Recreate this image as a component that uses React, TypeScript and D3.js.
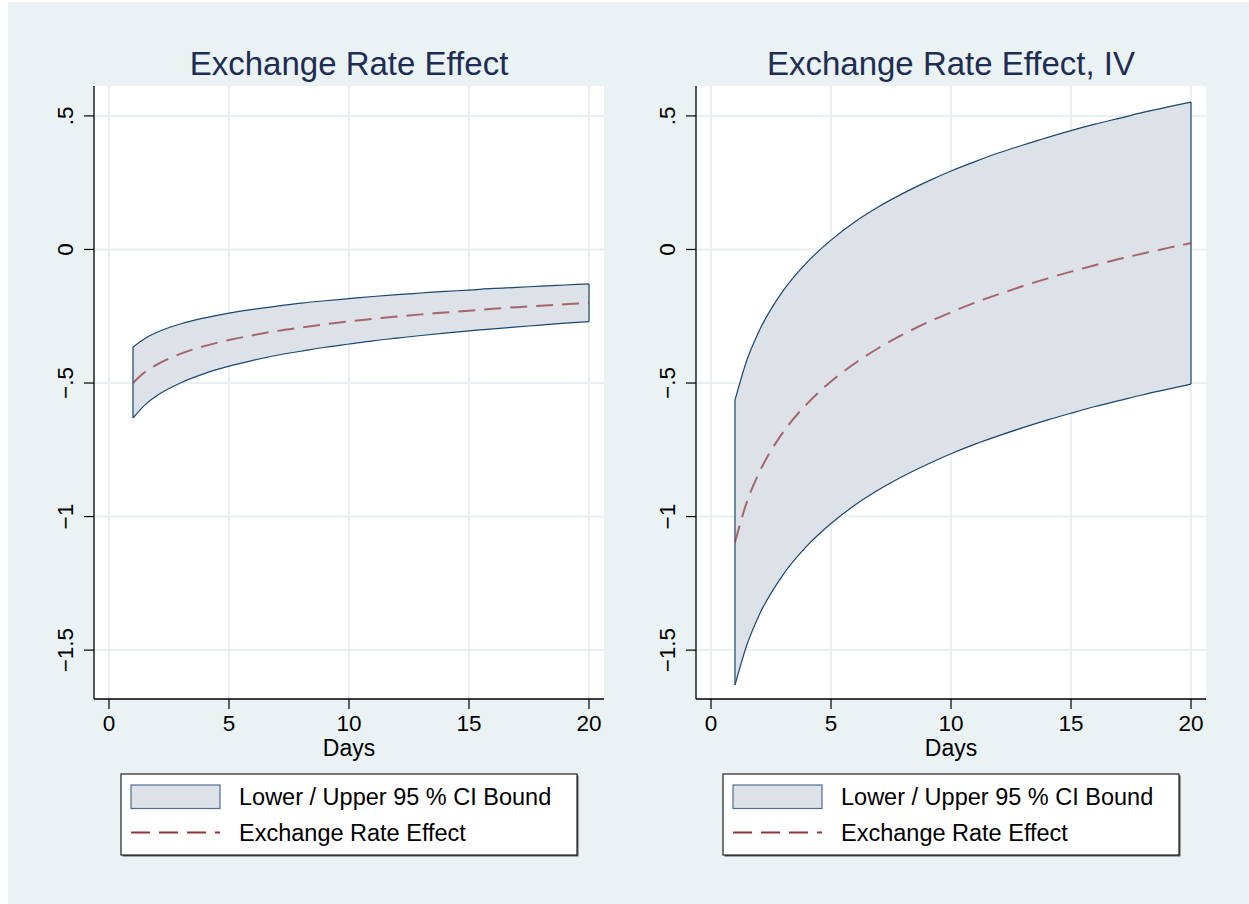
import * as d3 from 'd3';

// values, per day
const days = [1, 1.5, 2, 3, 4, 5, 6, 7, 8, 9, 10, 11, 12, 13, 14, 15, 16, 17, 18, 19, 20];

const olsMean = [-0.5, -0.459, -0.431, -0.39, -0.361, -0.339, -0.321, -0.305, -0.292, -0.28, -0.269, -0.26, -0.251, -0.243, -0.236, -0.229, -0.222, -0.216, -0.211, -0.205, -0.2];
const olsUpper = [-0.365, -0.333, -0.31, -0.278, -0.256, -0.238, -0.224, -0.212, -0.201, -0.192, -0.184, -0.176, -0.169, -0.163, -0.157, -0.152, -0.146, -0.142, -0.137, -0.133, -0.129];
const olsLower = [-0.631, -0.582, -0.547, -0.499, -0.464, -0.437, -0.415, -0.396, -0.381, -0.366, -0.354, -0.342, -0.332, -0.322, -0.313, -0.305, -0.297, -0.29, -0.283, -0.276, -0.27];

const ivMean = [-1.096, -0.944, -0.837, -0.685, -0.578, -0.494, -0.426, -0.368, -0.318, -0.274, -0.235, -0.199, -0.167, -0.137, -0.109, -0.083, -0.059, -0.036, -0.015, 0.005, 0.024];
const ivUpper = [-0.564, -0.413, -0.306, -0.155, -0.048, 0.035, 0.104, 0.161, 0.21, 0.254, 0.294, 0.329, 0.362, 0.391, 0.419, 0.445, 0.469, 0.491, 0.513, 0.533, 0.552];
const ivLower = [-1.631, -1.479, -1.37, -1.218, -1.11, -1.026, -0.957, -0.899, -0.849, -0.805, -0.765, -0.729, -0.697, -0.667, -0.639, -0.613, -0.588, -0.566, -0.544, -0.524, -0.504];

const xTicks = [0, 5, 10, 15, 20];
const yTicks = [0.5, 0, -0.5, -1, -1.5];
const yTickLabels = ['.5', '0', '\u2212.5', '\u22121', '\u22121.5'];
const titles = ['Exchange Rate Effect', 'Exchange Rate Effect, IV'];
const legendLabels = ['Lower / Upper 95 % CI Bound', 'Exchange Rate Effect'];

const FONT = '"Liberation Sans", Arial, Helvetica, sans-serif';
const BG = '#eaf2f3';
const GRID = '#eaf0f2';
const BAND = '#dde2e9';
const NAVY = '#1a476f';
const MAROON = '#90353b';

const panels = [
  { title: titles[0], left: 94, legendX: 121, mean: olsMean, upper: olsUpper, lower: olsLower },
  { title: titles[1], left: 696, legendX: 723, mean: ivMean, upper: ivUpper, lower: ivLower },
];

const PLOT_W = 510;
const TOP = 86;
const BOTTOM = 699;

const y = d3.scaleLinear().domain([-1.683, 0.612]).range([BOTTOM, TOP]);

function Panel({ p }: { p: typeof panels[number] }) {
  const x = d3.scaleLinear().domain([-0.625, 20.625]).range([p.left, p.left + PLOT_W]);
  const rows = days.map((d, i) => ({ d, m: p.mean[i], u: p.upper[i], l: p.lower[i] }));

  const area = d3.area<any>()
    .x(r => x(r.d)).y0(r => y(r.l)).y1(r => y(r.u))
    .curve(d3.curveMonotoneX);
  const upperLine = d3.line<any>().x(r => x(r.d)).y(r => y(r.u)).curve(d3.curveMonotoneX);
  const lowerLine = d3.line<any>().x(r => x(r.d)).y(r => y(r.l)).curve(d3.curveMonotoneX);
  const meanLine = d3.line<any>().x(r => x(r.d)).y(r => y(r.m)).curve(d3.curveMonotoneX);

  const first = rows[0];
  const last = rows[rows.length - 1];
  const cx = x(10);
  const lx = p.legendX;

  return (
    <g>
      <text x={cx} y={75} textAnchor="middle" fontSize={33} fill="#1e2d53" fontFamily={FONT}>{p.title}</text>
      <rect x={p.left} y={TOP} width={PLOT_W} height={BOTTOM - TOP} fill="#fff" />
      {xTicks.map(t => (
        <line key={'gx' + t} x1={x(t)} x2={x(t)} y1={TOP} y2={BOTTOM} stroke={GRID} strokeWidth={2} />
      ))}
      {yTicks.map(t => (
        <line key={'gy' + t} x1={p.left} x2={p.left + PLOT_W} y1={y(t)} y2={y(t)} stroke={GRID} strokeWidth={2} />
      ))}
      <path d={area(rows) || ''} fill={BAND} />
      <path d={upperLine(rows) || ''} fill="none" stroke={NAVY} strokeWidth={1.2} />
      <path d={lowerLine(rows) || ''} fill="none" stroke={NAVY} strokeWidth={1.2} />
      <line x1={x(first.d)} x2={x(first.d)} y1={y(first.u)} y2={y(first.l)} stroke={NAVY} strokeWidth={1.2} />
      <line x1={x(last.d)} x2={x(last.d)} y1={y(last.u)} y2={y(last.l)} stroke={NAVY} strokeWidth={1.2} />
      <path d={meanLine(rows) || ''} fill="none" stroke={MAROON} strokeOpacity={0.72} strokeWidth={2} strokeDasharray="17 9" />

      {/* axes */}
      <line x1={p.left} x2={p.left} y1={TOP} y2={BOTTOM} stroke="#000" strokeWidth={1.3} />
      <line x1={p.left} x2={p.left + PLOT_W} y1={BOTTOM} y2={BOTTOM} stroke="#000" strokeWidth={1.3} />
      {yTicks.map((t, i) => (
        <g key={'ty' + t}>
          <line x1={p.left - 10} x2={p.left} y1={y(t)} y2={y(t)} stroke="#000" strokeWidth={1.2} />
          <text transform={`translate(${p.left - 21},${y(t)}) rotate(-90)`} textAnchor="middle"
            fontSize={22.5} fontFamily={FONT} fill="#000">{yTickLabels[i]}</text>
        </g>
      ))}
      {xTicks.map(t => (
        <g key={'tx' + t}>
          <line x1={x(t)} x2={x(t)} y1={BOTTOM} y2={BOTTOM + 10} stroke="#000" strokeWidth={1.2} />
          <text x={x(t)} y={731} textAnchor="middle" fontSize={22.5} fontFamily={FONT} fill="#000">{t}</text>
        </g>
      ))}
      <text x={cx} y={756} textAnchor="middle" fontSize={23} fontFamily={FONT} fill="#000">Days</text>

      {/* legend */}
      <rect x={lx + 1.5} y={775.5} width={456} height={81} fill="#555" />
      <rect x={lx} y={774} width={456} height={81} fill="#fff" stroke="#222" strokeWidth={1.2} />
      <rect x={lx + 10} y={785} width={89} height={23.5} fill={BAND} stroke="#4d6f92" strokeWidth={1.2} />
      <text x={lx + 118} y={805} fontSize={23.5} fontFamily={FONT} fill="#000">{legendLabels[0]}</text>
      <line x1={lx + 10} x2={lx + 99} y1={832.5} y2={832.5} stroke={MAROON} strokeWidth={2} strokeDasharray="19 9" />
      <text x={lx + 118} y={841} fontSize={23.5} fontFamily={FONT} fill="#000">{legendLabels[1]}</text>
    </g>
  );
}

export default function App() {
  return (
    <svg width={1249} height={904} style={{ position: 'absolute', left: 0, top: 0, display: 'block' }}>
      <rect x={0} y={0} width={1249} height={904} fill="#fff" />
      <rect x={8} y={2} width={1241} height={902} fill={BG} />
      {panels.map(p => <Panel key={p.title} p={p} />)}
    </svg>
  );
}
